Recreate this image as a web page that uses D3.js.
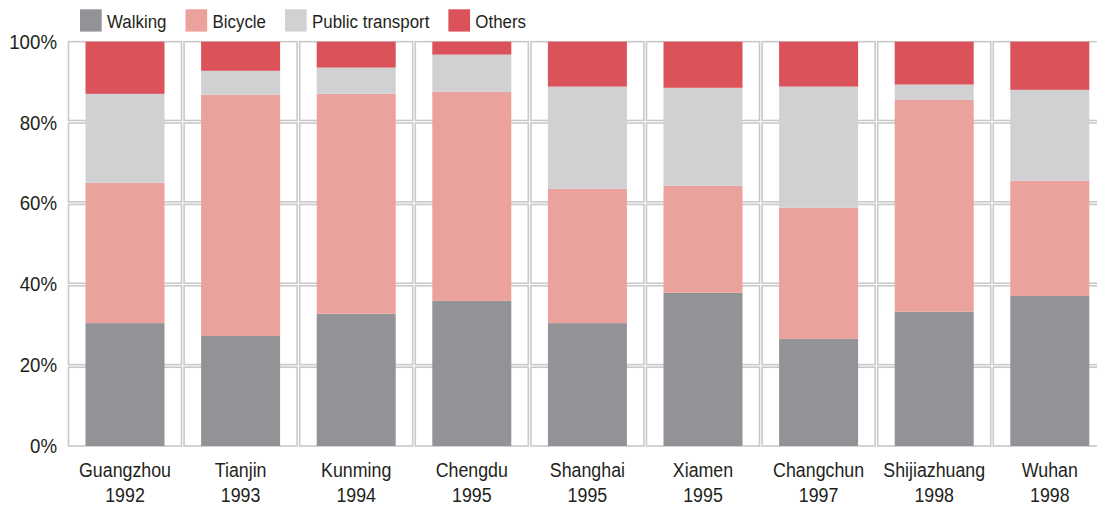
<!DOCTYPE html>
<html>
<head>
<meta charset="utf-8">
<script src="https://cdn.jsdelivr.net/npm/d3@7"></script>
<style>
  body { margin: 0; background: #fff; }
  svg { display: block; font-family: "Liberation Sans", Arial, sans-serif; }
</style>
</head>
<body>
<div class="chart"></div>
<script>
(function() {
const cities = ["Guangzhou", "Tianjin", "Kunming", "Chengdu", "Shanghai", "Xiamen", "Changchun", "Shijiazhuang", "Wuhan"];
const years = ["1992", "1993", "1994", "1995", "1995", "1995", "1997", "1998", "1998"];
const modes = ["Walking", "Bicycle", "Public transport", "Others"];
const walking = [30.4, 27.2, 32.7, 35.9, 30.4, 37.9, 26.5, 33.2, 37.1];
const bicycle = [34.7, 59.7, 54.4, 51.7, 33.2, 26.5, 32.4, 52.4, 28.5];
const publicTransport = [22.0, 5.9, 6.5, 9.2, 25.3, 24.2, 30.0, 3.8, 22.5];
const others = [12.9, 7.2, 6.4, 3.2, 11.1, 11.4, 11.1, 10.6, 11.9];
const yTicks = [0, 20, 40, 60, 80, 100];

const colors = ["#939397", "#eba29c", "#d1d1d3", "#db525b"];

const width = 1097, height = 505;
const svg = d3.select(".chart").append("svg")
    .attr("width", width)
    .attr("height", height);

const rows = cities.map((c, i) => ({
  key: c + i, city: c, year: years[i],
  Walking: walking[i], Bicycle: bicycle[i],
  "Public transport": publicTransport[i], Others: others[i]
}));

const step = 115.6, gap = 2.6;
const x = d3.scaleBand().domain(rows.map(d => d.key)).range([68.5, 68.5 + step * cities.length]);
const y = d3.scaleLinear().domain([0, 100]).range([446, 41.7]);

const sx = 0.89; // squeeze text a little, the source font is narrow
function label(g, tx, ty, str, size, anchor) {
  g.append("g")
      .attr("transform", "translate(" + tx + "," + ty + ") scale(" + sx + ",1)")
    .append("text")
      .attr("text-anchor", anchor)
      .style("font-size", size + "px")
      .attr("fill", "#231f20")
      .text(str);
}

// boxed grid cells
const grid = svg.append("g");
const boxW = x.bandwidth() - gap;
const boxH = (y(0) - y(100) - gap * (yTicks.length - 2)) / (yTicks.length - 1);
rows.forEach(d => {
  d3.range(yTicks.length - 1).forEach(r => {
    grid.append("rect")
        .attr("x", x(d.key))
        .attr("y", y(100) + r * (boxH + gap))
        .attr("width", boxW)
        .attr("height", boxH)
        .attr("fill", "none")
        .attr("stroke", "#c9c9c9")
        .attr("stroke-width", 1.6);
  });
});

// stacked bars
const series = d3.stack().keys(modes)(rows);
const barW = 79;
svg.append("g").selectAll("g")
  .data(series)
  .enter().append("g")
    .attr("fill", (s, i) => colors[i])
  .selectAll("rect")
  .data(s => s)
  .enter().append("rect")
    .attr("x", d => x(d.data.key) + boxW / 2 - barW / 2)
    .attr("y", d => y(d[1]))
    .attr("height", d => y(d[0]) - y(d[1]))
    .attr("width", barW);

// y axis labels
const ya = svg.append("g");
yTicks.forEach(t => label(ya, 57, y(t) + 7, t + "%", 21, "end"));

// category labels
const xa = svg.append("g");
rows.forEach(d => {
  const cx = x(d.key) + boxW / 2;
  label(xa, cx, 477, d.city, 20, "middle");
  label(xa, cx, 501.5, d.year, 20, "middle");
});

// legend
const lg = svg.append("g");
let lx = 80;
modes.forEach((m, i) => {
  lg.append("rect")
      .attr("x", lx).attr("y", 9.3)
      .attr("width", 21.7).attr("height", 22.3)
      .attr("fill", colors[i]);
  const holder = lg.append("g")
      .attr("transform", "translate(" + (lx + 27) + ",28) scale(" + sx + ",1)");
  const t = holder.append("text")
      .style("font-size", "19px")
      .attr("fill", "#231f20")
      .text(m);
  lx += 27 + t.node().getComputedTextLength() * sx + 19;
});
}())
</script>
</body>
</html>
